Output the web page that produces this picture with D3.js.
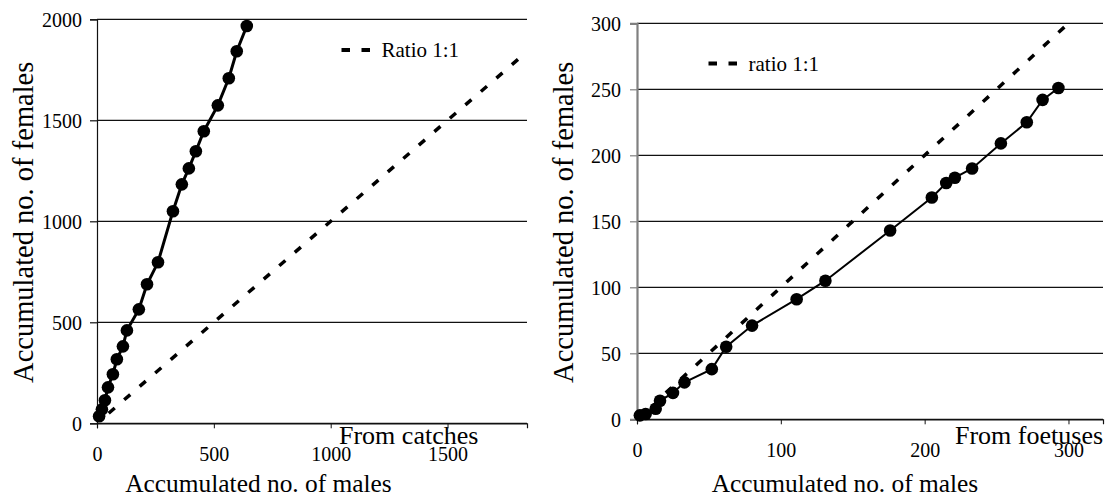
<!DOCTYPE html>
<html>
<head>
<meta charset="utf-8">
<script src="https://cdn.jsdelivr.net/npm/d3@7"></script>
<style>
  html, body { margin: 0; padding: 0; background: #fff; }
  svg text { font-family: "Liberation Serif", "DejaVu Serif", "Times New Roman", serif !important; fill: #000; }
</style>
</head>
<body>
<svg id="chart" width="1108" height="500" font-family="Liberation Serif, serif"></svg>
<script>
// ---- Data: left panel (from catches) ----
const catchMales   = [9, 21, 34, 47, 68, 85, 111, 128, 179, 214, 261, 325, 363, 393, 423, 457, 517, 564, 598, 641];
const catchFemales = [35, 69, 114, 178, 243, 317, 381, 460, 564, 688, 797, 1050, 1183, 1262, 1347, 1446, 1574, 1708, 1842, 1967];
const catchRatio   = [50, 1840];
const catchXTicks  = [0, 500, 1000, 1500];
const catchYTicks  = [0, 500, 1000, 1500, 2000];

// ---- Data: right panel (from foetuses) ----
const foetusMales   = [2, 6, 13, 16, 25, 33, 52, 62, 80, 111, 131, 176, 205, 215, 221, 233, 253, 271, 282, 293];
const foetusFemales = [3, 4, 8, 14, 20, 28, 38, 55, 71, 91, 105, 143, 168, 179, 183, 190, 209, 225, 242, 251];
const foetusRatio   = [20, 300];
const foetusXTicks  = [0, 100, 200, 300];
const foetusYTicks  = [0, 50, 100, 150, 200, 250, 300];

const SERIF = "'Liberation Serif', 'DejaVu Serif', 'Times New Roman', serif";
const svg = d3.select("#chart");

function panel(cfg) {
  const g = svg.append("g");
  const x = d3.scaleLinear().domain(cfg.xDomain).range([cfg.left, cfg.right]);
  const y = d3.scaleLinear().domain(cfg.yDomain).range([cfg.bottom, cfg.top]);

  // gridlines
  g.append("g").selectAll("line").data(cfg.yTicks).join("line")
    .attr("x1", cfg.left).attr("x2", cfg.right)
    .attr("y1", d => y(d)).attr("y2", d => y(d))
    .attr("stroke", "#111").attr("stroke-width", 1.2);

  // y axis
  const ya = g.append("g").attr("transform", `translate(${cfg.left},0)`)
    .call(d3.axisLeft(y).tickValues(cfg.yTicks).tickSize(7).tickPadding(cfg.yPad).tickFormat(d3.format("d")));
  ya.attr("font-family", null).attr("font-size", null);
  ya.select(".domain").attr("stroke", cfg.yAxisColor).attr("stroke-width", cfg.yAxisWidth);
  ya.selectAll(".tick line").attr("stroke", cfg.yAxisColor).attr("stroke-width", 1.2);
  ya.selectAll("text").style("font-family", SERIF).style("font-size", "20px").attr("dy", "0.34em");

  // x axis
  const xa = g.append("g").attr("transform", `translate(0,${cfg.bottom})`)
    .call(d3.axisBottom(x).tickValues(cfg.xTicks).tickSize(5).tickFormat(d3.format("d")));
  xa.attr("font-family", null).attr("font-size", null);
  xa.select(".domain").attr("stroke", "#111").attr("stroke-width", 1.2);
  xa.selectAll(".tick line").attr("stroke", "#111");
  xa.selectAll("text").style("font-family", SERIF).style("font-size", "20px")
    .attr("y", 38).attr("dy", 0);

  // ratio 1:1 dashed line
  g.append("line")
    .attr("x1", x(cfg.ratio[0])).attr("y1", y(cfg.ratio[0]))
    .attr("x2", x(cfg.ratio[1])).attr("y2", y(cfg.ratio[1]))
    .attr("stroke", "#000").attr("stroke-width", 3.5)
    .attr("stroke-dasharray", "8,12.5");

  // data line
  const pts = cfg.males.map((m, i) => [m, cfg.females[i]]);
  g.append("path").datum(pts)
    .attr("fill", "none").attr("stroke", "#000").attr("stroke-width", cfg.lineWidth)
    .attr("d", d3.line().x(d => x(d[0])).y(d => y(d[1])));
  g.append("g").selectAll("circle").data(pts).join("circle")
    .attr("cx", d => x(d[0])).attr("cy", d => y(d[1])).attr("r", cfg.r).attr("fill", "#000");

  // legend
  g.append("line")
    .attr("x1", cfg.legX).attr("x2", cfg.legX + 29)
    .attr("y1", cfg.legY).attr("y2", cfg.legY)
    .attr("stroke", "#000").attr("stroke-width", 4).attr("stroke-dasharray", "8.5,11.5");
  g.append("text").attr("x", cfg.legX + 40).attr("y", cfg.legY + 7)
    .style("font-family", SERIF).style("font-size", "21px").text(cfg.legText);

  // source label
  g.append("text").attr("x", cfg.srcX).attr("y", 444)
    .style("font-family", SERIF).style("font-size", "26px").text(cfg.srcText);

  // axis titles
  g.append("text").attr("x", cfg.xTitleX).attr("y", 492).attr("text-anchor", "middle")
    .style("font-family", SERIF).style("font-size", "25.4px").text("Accumulated no. of males");
  g.append("text")
    .attr("transform", `translate(${cfg.yTitleX},${(cfg.top + cfg.bottom) / 2 + 1}) rotate(-90)`)
    .attr("text-anchor", "middle")
    .style("font-family", SERIF).style("font-size", "28.5px").text("Accumulated no. of females");
}

panel({
  males: catchMales, females: catchFemales, ratio: catchRatio,
  xTicks: catchXTicks, yTicks: catchYTicks,
  xDomain: [0, 1840], yDomain: [0, 2000],
  left: 97, right: 527, top: 19.3, bottom: 423.3,
  yAxisColor: "#111", yAxisWidth: 1.2, yPad: 8,
  lineWidth: 3, r: 6.3,
  legX: 341.5, legY: 50, legText: "Ratio 1:1",
  srcX: 339, srcText: "From catches",
  xTitleX: 258.5, yTitleX: 33
});

panel({
  males: foetusMales, females: foetusFemales, ratio: foetusRatio,
  xTicks: foetusXTicks, yTicks: foetusYTicks,
  xDomain: [0, 324], yDomain: [0, 300],
  left: 637, right: 1103, top: 23.3, bottom: 419.3,
  yAxisColor: "#808080", yAxisWidth: 2.2, yPad: 9,
  lineWidth: 2, r: 6.3,
  legX: 708.5, legY: 63.5, legText: "ratio 1:1",
  srcX: 955, srcText: "From foetuses",
  xTitleX: 845, yTitleX: 573
});
</script>
</body>
</html>
